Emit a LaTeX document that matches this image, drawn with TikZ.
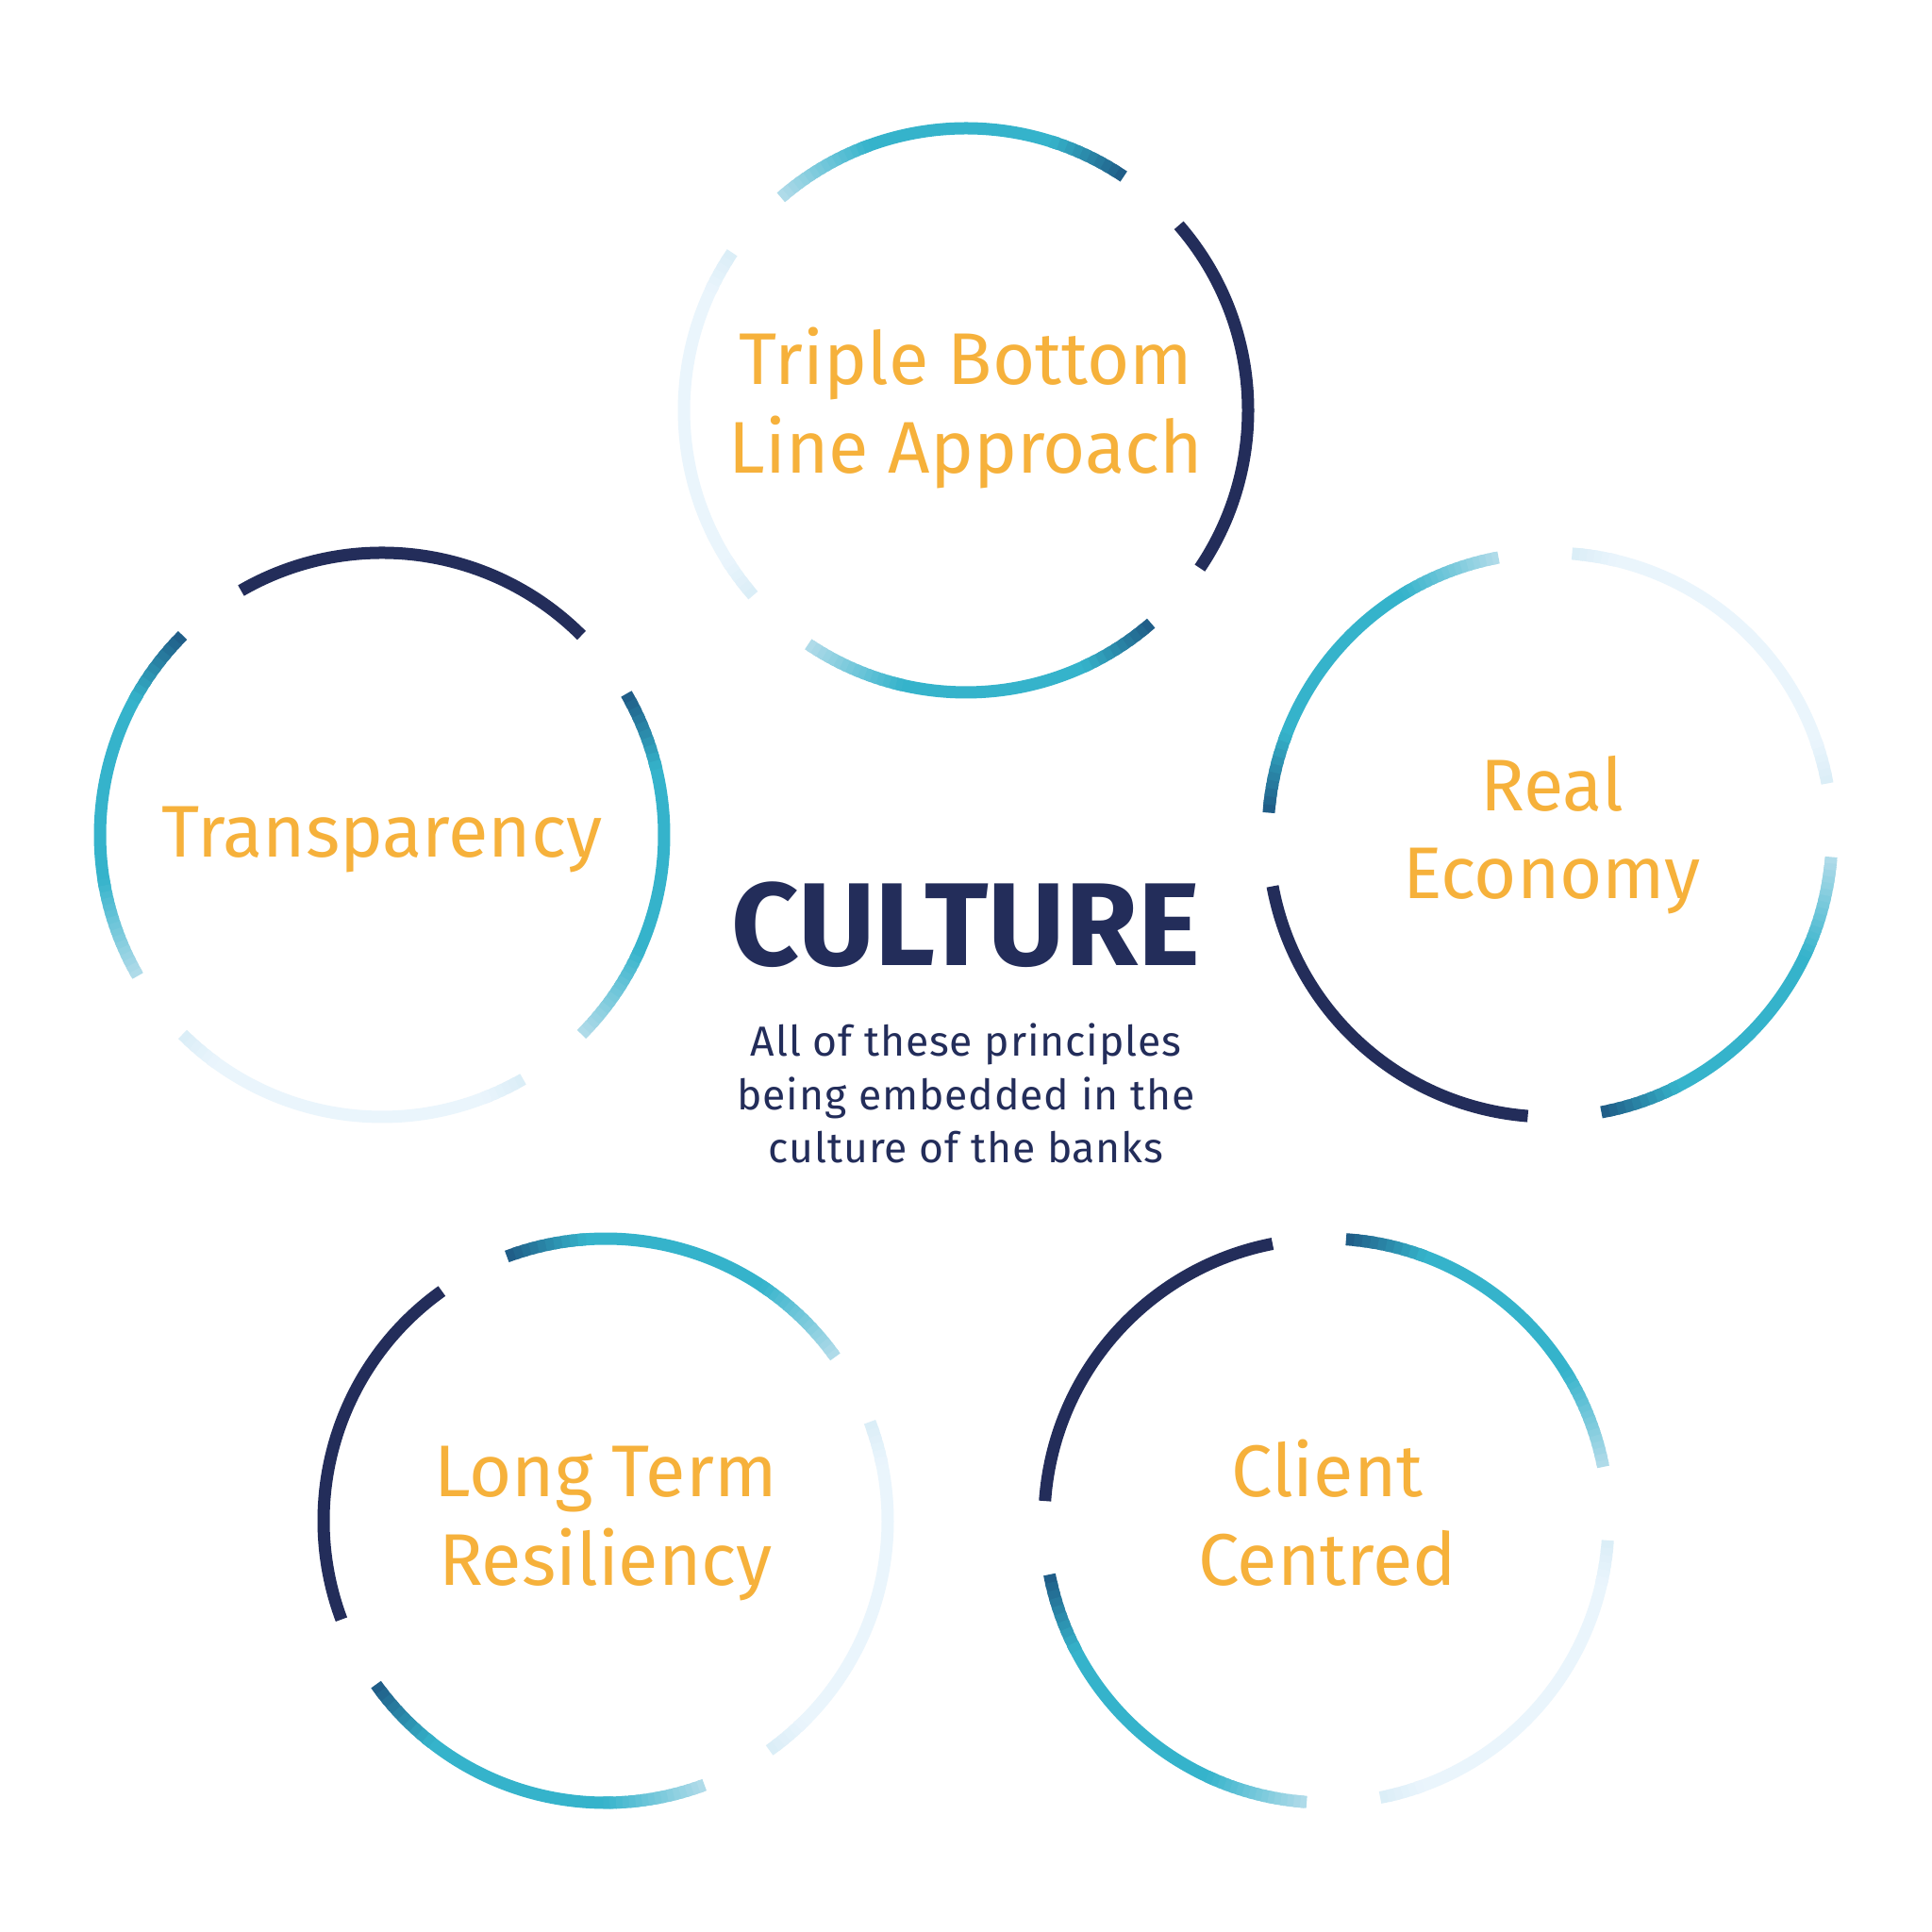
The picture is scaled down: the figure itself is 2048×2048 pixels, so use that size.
\documentclass[tikz,border=0pt]{standalone}
\usepackage{fontspec}
\setmainfont{Fira Sans}
\definecolor{cNavy}{HTML}{232D5A}
\definecolor{cSteel}{HTML}{1F5A84}
\definecolor{cTeal}{HTML}{35B3CB}
\definecolor{cLight}{HTML}{B3DCEA}
\definecolor{cPale}{HTML}{EAF5FC}
\definecolor{cPaleEnd}{HTML}{DAEDF7}
\definecolor{cOrange}{HTML}{F6B13B}
\newcommand\RR{299}
% gradient run of small arc segments
\newcommand\gseg[6]{%
  \foreach \k in {1,...,#6}{%
    \pgfmathsetmacro\sa{#2+(#3-(#2))*(\k-1)/#6}%
    \pgfmathsetmacro\sb{#2+(#3-(#2))*min(\k+0.6,#6)/#6}%
    \pgfmathtruncatemacro\pp{round(100*(\k-0.5)/#6)}%
    \draw[ring, draw=#5!\pp!#4] (#1) ++(\sa:\RR) arc[start angle=\sa, end angle=\sb, radius=\RR];
  }}
% steel -> teal -> light arc
\newcommand\garc[3]{%
  \pgfmathsetmacro\ga{#2}\pgfmathsetmacro\gb{#3}%
  \pgfmathsetmacro\gp{\ga+(\gb-\ga)*0.22}%
  \pgfmathsetmacro\gq{\ga+(\gb-\ga)*0.72}%
  \pgfmathsetmacro\gpp{\ga+(\gb-\ga)*0.20}%
  \pgfmathsetmacro\gqq{\ga+(\gb-\ga)*0.74}%
  \draw[ring, draw=cTeal] (#1) ++(\gpp:\RR) arc[start angle=\gpp, end angle=\gqq, radius=\RR];
  \gseg{#1}{\ga}{\gp}{cSteel}{cTeal}{10}%
  \gseg{#1}{\gq}{\gb}{cTeal}{cLight}{16}%
}
% pale arc with slightly bluer ends
\newcommand\parc[3]{%
  \pgfmathsetmacro\ga{#2}\pgfmathsetmacro\gb{#3}%
  \pgfmathsetmacro\gp{\ga+(\gb-\ga)*0.12}%
  \pgfmathsetmacro\gq{\ga+(\gb-\ga)*0.88}%
  \pgfmathsetmacro\gpp{\ga+(\gb-\ga)*0.10}%
  \pgfmathsetmacro\gqq{\ga+(\gb-\ga)*0.90}%
  \draw[ring, draw=cPale] (#1) ++(\gpp:\RR) arc[start angle=\gpp, end angle=\gqq, radius=\RR];
  \gseg{#1}{\ga}{\gp}{cPaleEnd}{cPale}{6}%
  \gseg{#1}{\gb}{\gq}{cPaleEnd}{cPale}{6}%
}
% one ring: #1 centre, #2 start angle of the navy arc
\newcommand\ringset[2]{%
  \pgfmathsetmacro\tA{#2}\pgfmathsetmacro\tB{#2+75}%
  \draw[ring, draw=cNavy] (#1) ++(\tA:\RR) arc[start angle=\tA, end angle=\tB, radius=\RR];
  \garc{#1}{#2-15}{#2-90}%
  \garc{#1}{#2+90}{#2+165}%
  \parc{#1}{#2-105}{#2-180}%
}
\tikzset{
  ring/.style={line width=13pt, line cap=butt},
  lbl/.style={text=cOrange, inner sep=0pt, anchor=base, font=\fontsize{77.6}{93}\selectfont},
  title/.style={text=cNavy, inner sep=0pt, anchor=base, font=\fontsize{125}{150}\selectfont\bfseries},
  sub/.style={text=cNavy, inner sep=0pt, anchor=base, font=\fontsize{44.5}{56}\selectfont\addfontfeatures{LetterSpace=2}}
}
\begin{document}
\begin{tikzpicture}[x=1pt,y=1pt]
\useasboundingbox (0,0) rectangle (2048,2048);
\fill[white] (0,0) rectangle (2048,2048);
\coordinate (cT) at (1024,1613);
\coordinate (cTr) at (405,1163);
\coordinate (cRe) at (1643,1163);
\coordinate (cLo) at (642,436);
\coordinate (cCl) at (1406,436);
\ringset{cT}{-34}
\ringset{cTr}{45}
\ringset{cRe}{190.5}
\ringset{cLo}{125.5}
\ringset{cCl}{101}
\node[lbl] (tb1) at (1024,1640) {Triple Bottom};
\node[lbl] (tb2) at (1024,1546.2) {Line Approach};
\node[lbl] (tr1) at (405,1139.5) {Transparency};
\node[lbl] (re1) at (1645,1188.3) {Real};
\node[lbl] (re2) at (1645,1095.7) {Economy};
\node[lbl] (lt1) at (642,461.3) {Long Term};
\node[lbl] (lt2) at (642,367.8) {Resiliency};
\node[lbl] (cc1) at (1407,461.3) {Client};
\node[lbl] (cc2) at (1407,367.8) {Centred};
\node[title] (cu) at (1024,1024.8) {CULTURE};
\node[sub] (s1) at (1024,928.4) {All of these principles};
\node[sub] (s2) at (1024,871.2) {being embedded in the};
\node[sub] (s3) at (1024,815.9) {culture of the banks};
\end{tikzpicture}
\end{document}
